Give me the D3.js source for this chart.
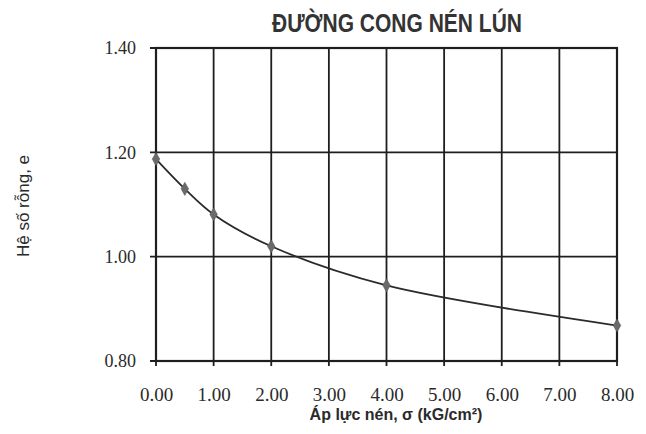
<!DOCTYPE html>
<html>
<head>
<meta charset="utf-8">
<script src="https://cdn.jsdelivr.net/npm/d3@7/dist/d3.min.js"></script>
<style>
  html, body { margin: 0; padding: 0; background: #fff; }
  svg { display: block; }
</style>
</head>
<body>
<svg id="chart" width="646" height="434"></svg>
<script>
// ---- Data ----
const pressure = [0, 0.5, 1, 2, 4, 8];                 // σ (kG/cm²)
const voidRatio = [1.187, 1.130, 1.081, 1.020, 0.945, 0.868]; // e
const xTicks = [0, 1, 2, 3, 4, 5, 6, 7, 8];
const yTicks = [0.80, 1.00, 1.20, 1.40];
const titleText = "ĐƯỜNG CONG NÉN LÚN";
const xTitle = "Áp lực nén, σ (kG/cm²)";
const yTitle = "Hệ số rỗng, e";

(function () {
// ---- Layout ----
const svg = d3.select("#chart");
const pLeft = 156, pRight = 617, pTop = 48, pBottom = 361;

const x = d3.scaleLinear().domain([0, 8]).range([pLeft, pRight]);
const y = d3.scaleLinear().domain([0.80, 1.40]).range([pBottom, pTop]);

const ink = "#1e1e1e";

// Grid lines
const g = svg.append("g");
g.selectAll("line.vx").data(xTicks).enter().append("line")
  .attr("x1", d => x(d)).attr("x2", d => x(d))
  .attr("y1", pTop).attr("y2", pBottom + 5)
  .attr("stroke", ink).attr("stroke-width", 1.8);
g.selectAll("line.hy").data(yTicks).enter().append("line")
  .attr("x1", pLeft - 6).attr("x2", pRight)
  .attr("y1", d => y(d)).attr("y2", d => y(d))
  .attr("stroke", ink).attr("stroke-width", 1.8);

// Plot frame
g.append("rect")
  .attr("x", pLeft).attr("y", pTop)
  .attr("width", pRight - pLeft).attr("height", pBottom - pTop)
  .attr("fill", "none").attr("stroke", ink).attr("stroke-width", 2.2);

// Axes labels via d3 axes
const xAxis = svg.append("g")
  .attr("transform", `translate(0,${pBottom})`)
  .call(d3.axisBottom(x).tickValues(xTicks).tickFormat(d3.format(".2f")).tickSize(0).tickPadding(27));
xAxis.select(".domain").remove();
xAxis.selectAll("text")
  .attr("font-family", "'Liberation Serif', 'Times New Roman', serif")
  .attr("font-size", 19).attr("fill", "#2a2a2a");

const yAxis = svg.append("g")
  .attr("transform", `translate(${pLeft},0)`)
  .call(d3.axisLeft(y).tickValues(yTicks).tickFormat(d3.format(".2f")).tickSize(0).tickPadding(20));
yAxis.select(".domain").remove();
yAxis.selectAll("text")
  .attr("font-family", "'Liberation Serif', 'Times New Roman', serif")
  .attr("font-size", 18).attr("fill", "#2a2a2a");

// Curve
const pts = pressure.map((p, i) => [p, voidRatio[i]]);
svg.append("path")
  .datum(pts)
  .attr("fill", "none")
  .attr("stroke", "#2b2b2b")
  .attr("stroke-width", 1.8)
  .attr("d", d3.line().x(d => x(d[0])).y(d => y(d[1])).curve(d3.curveCatmullRom.alpha(0.5)));

// Markers (diamonds)
svg.selectAll("path.mk").data(pts).enter().append("path")
  .attr("class", "mk")
  .attr("transform", d => `translate(${x(d[0])},${y(d[1])})`)
  .attr("d", d3.symbol().type(d3.symbolDiamond).size(50))
  .attr("fill", "#6a6a6a").attr("stroke", "#555").attr("stroke-width", 0.5);

// Title
const t = svg.append("text")
  .attr("x", 0).attr("y", 0)
  .attr("text-anchor", "middle")
  .attr("font-family", "'Liberation Sans Narrow', 'Arial Narrow', 'Liberation Sans', sans-serif")
  .attr("font-weight", "bold")
  .attr("font-size", 25)
  .attr("fill", "#333")
  .text(titleText);
const tl = t.node().getComputedTextLength();
t.attr("transform", `translate(397,32) scale(${250 / tl},1)`);

// X title
svg.append("text")
  .attr("x", 396).attr("y", 420)
  .attr("text-anchor", "middle")
  .attr("font-family", "'Liberation Sans', Arial, sans-serif")
  .attr("font-weight", "bold")
  .attr("font-size", 16)
  .attr("fill", "#2a2a2a")
  .text(xTitle);

// Y title
svg.append("text")
  .attr("transform", "translate(29,206) rotate(-90)")
  .attr("text-anchor", "middle")
  .attr("font-family", "'Liberation Sans', Arial, sans-serif")
  .attr("font-size", 17)
  .attr("fill", "#2a2a2a")
  .text(yTitle);
})();
</script>
</body>
</html>
